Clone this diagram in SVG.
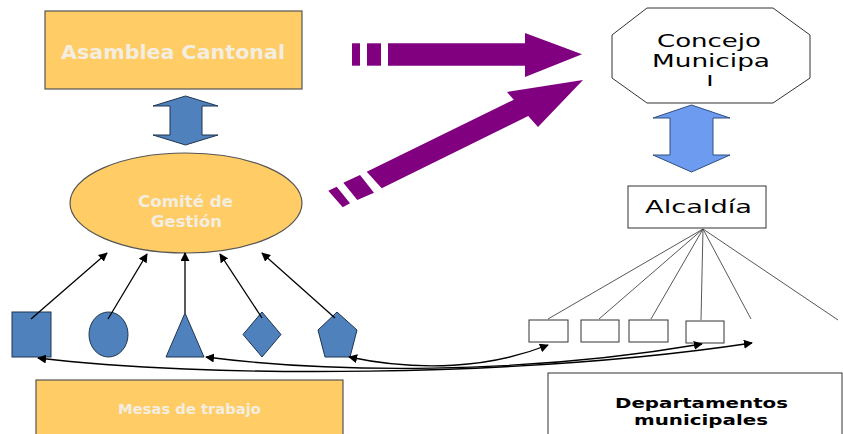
<svg xmlns="http://www.w3.org/2000/svg" width="843" height="434" viewBox="0 0 843 434">
<defs>
<marker id="ah" viewBox="0 0 10 10" refX="9" refY="5" markerWidth="9" markerHeight="9" markerUnits="userSpaceOnUse" orient="auto-start-reverse">
<path d="M0,0 L10,5 L0,10 z" fill="#000"/>
</marker>
<style>
.orange{fill:#FFCC66;stroke:#555;stroke-width:1.2}
.blue{fill:#4F81BD;stroke:#1F3550;stroke-width:1}
.lblue{fill:#6C9BEF;stroke:#2F4F7F;stroke-width:1}
.wbox{fill:#fff;stroke:#333;stroke-width:1}
.purple{fill:#800080}
.ltext{font-family:"DejaVu Sans",Verdana,sans-serif;font-weight:bold;fill:#F3EEE0;text-anchor:middle}
.dtext{font-family:"DejaVu Sans",Verdana,sans-serif;fill:#000;text-anchor:middle}
.btext{font-family:"DejaVu Sans",Verdana,sans-serif;font-weight:bold;fill:#000;text-anchor:middle}
.conn{fill:none;stroke:#000;stroke-width:1.3}
.fan{fill:none;stroke:#444;stroke-width:0.9}
</style>
</defs>
<rect width="843" height="434" fill="#fff"/>

<g id="asamblea">
<rect class="orange" x="45" y="11" width="257" height="78"/>
<text class="ltext" x="173" y="59" font-size="19" textLength="224" lengthAdjust="spacingAndGlyphs">Asamblea Cantonal</text>
</g>

<g id="arrow-asamblea-comite">
<polygon class="blue" points="185.5,96 218,106 202,106 202,135 218,135 185.5,145 153,135 170,135 170,106 153,106"/>
</g>

<g id="comite">
<ellipse class="orange" cx="186" cy="203" rx="116" ry="50"/>
<text class="ltext" x="185.5" y="207" font-size="15.5" textLength="95" lengthAdjust="spacingAndGlyphs">Comité de</text>
<text class="ltext" x="186.5" y="227" font-size="15.5" textLength="71" lengthAdjust="spacingAndGlyphs">Gestión</text>
</g>

<g id="shape-square"><rect class="blue" x="12" y="312" width="39" height="45"/></g>
<g id="shape-circle"><ellipse class="blue" cx="108.5" cy="334.5" rx="19.5" ry="22.5"/></g>
<g id="shape-triangle"><polygon class="blue" points="185,313 204,357 166,357"/></g>
<g id="shape-diamond"><polygon class="blue" points="262,312 281,334.5 262,357 243,334.5"/></g>
<g id="shape-pentagon"><polygon class="blue" points="337,312 357,330 350,357 325,357 318,330"/></g>

<g id="mesas">
<rect class="orange" x="36" y="380" width="307" height="60"/>
<text class="ltext" x="189.5" y="414" font-size="13.5" textLength="143" lengthAdjust="spacingAndGlyphs">Mesas de trabajo</text>
</g>

<g id="purple-arrows">
<rect class="purple" x="352" y="43.3" width="8" height="22.4"/>
<rect class="purple" x="367" y="43.3" width="14" height="22.4"/>
<polygon class="purple" points="388,43.3 525,43.3 525,33 582,54.3 525,77 525,65.7 388,65.7"/>
<polygon class="purple" points="328.3,190.7 336.7,186.7 350,203.3 342.7,207.3"/>
<polygon class="purple" points="343.3,182.7 360,175 374,192.7 357.3,200"/>
<polygon class="purple" points="366.7,171.7 513.8,99.7 507,92 583,80 538,127 528.2,115.9 381.7,188.3"/>
</g>

<g id="concejo">
<polygon class="wbox" points="647,8 773,8 810,35 810,78 773,103 647,103 612,78 612,35"/>
<text class="dtext" x="709" y="47" font-size="17.5" textLength="104" lengthAdjust="spacingAndGlyphs">Concejo</text>
<text class="dtext" x="711" y="67" font-size="17.5" textLength="118" lengthAdjust="spacingAndGlyphs">Municipa</text>
<text class="dtext" x="710" y="86" font-size="14" font-weight="bold">l</text>
</g>

<g id="arrow-concejo-alcaldia">
<polygon class="lblue" points="691.5,105 730,118 713,118 713,155 730,155 691.5,172 653,155 670,155 670,118 653,118"/>
</g>

<g id="alcaldia">
<rect class="wbox" x="628" y="186" width="138" height="42"/>
<text class="dtext" x="698.5" y="213" font-size="18.5" textLength="107" lengthAdjust="spacingAndGlyphs">Alcaldía</text>
</g>

<g id="dept-boxes">
<rect class="wbox" x="529" y="320" width="39" height="22"/>
<rect class="wbox" x="581" y="320" width="38" height="22"/>
<rect class="wbox" x="629" y="320" width="39" height="22"/>
<rect class="wbox" x="686" y="321" width="38" height="22"/>
</g>

<g id="departamentos">
<rect class="wbox" x="548" y="373" width="294" height="70"/>
<text class="btext" x="701.5" y="408" font-size="14.5" textLength="173" lengthAdjust="spacingAndGlyphs">Departamentos</text>
<text class="btext" x="701" y="425" font-size="14.5" textLength="134" lengthAdjust="spacingAndGlyphs">municipales</text>
</g>

<g id="connectors">
<line class="conn" x1="31" y1="319" x2="107" y2="253" marker-end="url(#ah)"/>
<line class="conn" x1="108" y1="319" x2="147" y2="254" marker-end="url(#ah)"/>
<line class="conn" x1="185" y1="313" x2="185" y2="253" marker-end="url(#ah)"/>
<line class="conn" x1="262" y1="318" x2="220" y2="254" marker-end="url(#ah)"/>
<line class="conn" x1="335" y1="318" x2="262" y2="253" marker-end="url(#ah)"/>
<path class="conn" d="M38,358 C200,378 520,378 752,343" marker-start="url(#ah)" marker-end="url(#ah)"/>
<path class="conn" d="M206,357 C330,373 520,375 702,344" marker-start="url(#ah)" marker-end="url(#ah)"/>
<path class="conn" d="M349,357 C420,372 490,368 548,345" marker-start="url(#ah)" marker-end="url(#ah)"/>
<line class="fan" x1="703" y1="229" x2="548" y2="319"/>
<line class="fan" x1="703" y1="229" x2="599" y2="319"/>
<line class="fan" x1="703" y1="229" x2="651" y2="319"/>
<line class="fan" x1="703" y1="229" x2="701" y2="320"/>
<line class="fan" x1="703" y1="229" x2="751" y2="319"/>
<line class="fan" x1="703" y1="229" x2="838" y2="320"/>
</g>
</svg>
